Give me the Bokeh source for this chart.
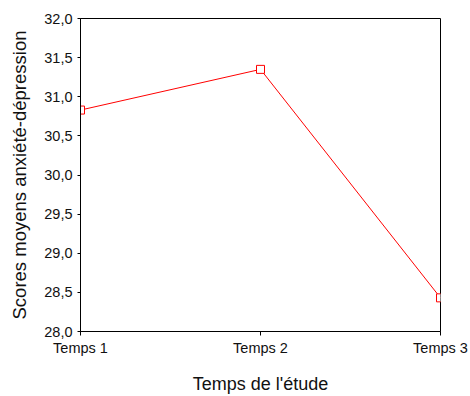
from bokeh.plotting import figure
from bokeh.models import Range1d, FixedTicker, CustomJSTickFormatter, ColumnDataSource
from bokeh.embed import file_html
from bokeh.resources import INLINE

categories = ["Temps 1", "Temps 2", "Temps 3"]
positions = [1, 2, 3]
scores = [30.83, 31.35, 28.43]
y_ticks = [28.0, 28.5, 29.0, 29.5, 30.0, 30.5, 31.0, 31.5, 32.0]

src = ColumnDataSource(dict(x=positions, y=scores))

p = figure(width=470, height=396, output_backend="svg", toolbar_location=None,
           x_range=Range1d(1, 3), y_range=Range1d(28, 32),
           min_border_left=80, min_border_right=30, min_border_top=18, min_border_bottom=65)

p.line("x", "y", source=src, line_color="red", line_width=1)
p.scatter("x", "y", source=src, marker="square", size=8, line_color="red",
          fill_color="white", line_width=1)

p.xgrid.visible = False
p.ygrid.visible = False
p.outline_line_color = "black"
p.outline_line_width = 1
p.background_fill_color = "white"
p.border_fill_color = "white"

font = "Liberation Sans"

xa = p.xaxis[0]
xa.ticker = FixedTicker(ticks=positions)
xa.major_label_overrides = {pos: lab for pos, lab in zip(positions, categories)}
xa.axis_label = "Temps de l'étude"
xa.axis_label_text_font = font
xa.axis_label_text_font_style = "normal"
xa.axis_label_text_font_size = "18px"
xa.axis_label_text_color = "#111111"
xa.axis_label_standoff = 15
xa.major_label_text_font = font
xa.major_label_text_font_size = "14.5px"
xa.major_label_text_color = "#111111"
xa.major_label_standoff = 4
xa.major_tick_in = 0
xa.major_tick_out = 4
xa.minor_tick_line_color = None
xa.axis_line_color = "black"
xa.major_tick_line_color = "black"

ya = p.yaxis[0]
ya.ticker = FixedTicker(ticks=y_ticks)
ya.formatter = CustomJSTickFormatter(code="return tick.toFixed(1).replace('.', ',');")
ya.axis_label = "Scores moyens anxiété-dépression"
ya.axis_label_text_font = font
ya.axis_label_text_font_style = "normal"
ya.axis_label_text_font_size = "18.5px"
ya.axis_label_text_color = "#111111"
ya.axis_label_standoff = 11
ya.major_label_text_font = font
ya.major_label_text_font_size = "14.5px"
ya.major_label_text_color = "#111111"
ya.major_label_standoff = 5
ya.major_tick_in = 0
ya.major_tick_out = 3
ya.minor_tick_line_color = None
ya.axis_line_color = "black"
ya.major_tick_line_color = "black"

open("out.html", "w").write(file_html(p, INLINE))
